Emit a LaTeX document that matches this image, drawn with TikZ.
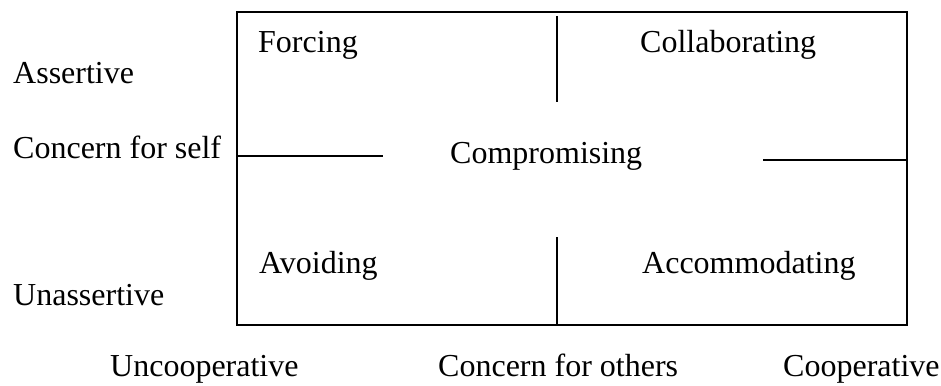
\documentclass[tikz,border=0pt]{standalone}
\usepackage{fontspec}
\setmainfont{Liberation Serif}
\begin{document}
\begin{tikzpicture}[x=1pt,y=-1pt,
  lbl/.style={anchor=base west,inner sep=0pt,font=\fontsize{32}{37}\selectfont},
  edge/.style={line width=1.5pt,black}]
\useasboundingbox (0,0) rectangle (941,385);
% box
\coordinate (tl) at (237,12);
\coordinate (br) at (907,325);
\draw[edge] (tl) rectangle (br);
% dividers
\coordinate (vt1) at (557,16);
\coordinate (vt2) at (557,102);
\coordinate (vb1) at (557,237);
\coordinate (vb2) at (557,325);
\coordinate (hl1) at (237,156);
\coordinate (hl2) at (383,156);
\coordinate (hr1) at (763,160);
\coordinate (hr2) at (907,160);
\draw[edge] (vt1) -- (vt2);
\draw[edge] (vb1) -- (vb2);
\draw[edge] (hl1) -- (hl2);
\draw[edge] (hr1) -- (hr2);
% quadrant labels
\node[lbl] (forcing) at (258,53) {Forcing};
\node[lbl] (collab) at (640,53) {Collaborating};
\node[lbl] (comprom) at (450,163) {Compromising};
\node[lbl] (avoid) at (259,273) {Avoiding};
\node[lbl] (accom) at (642,273) {Accommodating};
% axis labels
\node[lbl] (assert) at (13,84) {Assertive};
\node[lbl] (self) at (13,158) {Concern for self};
\node[lbl] (unassert) at (13,305) {Unassertive};
\node[lbl] (uncoop) at (110,376) {Uncooperative};
\node[lbl] (others) at (438,376) {Concern for others};
\node[lbl] (coop) at (783,376) {Cooperative};
\end{tikzpicture}
\end{document}
